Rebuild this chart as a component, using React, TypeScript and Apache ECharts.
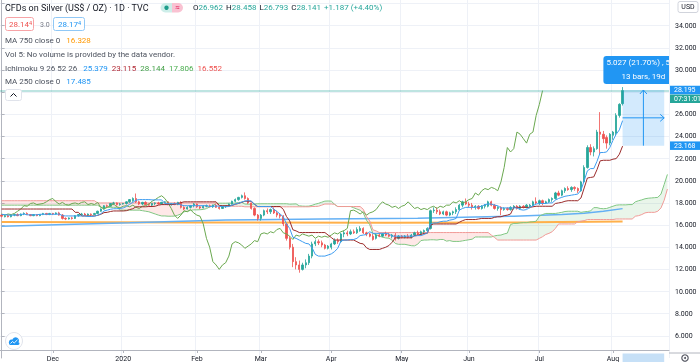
import React, { useEffect, useRef } from "react";
import * as echarts from "echarts";

// ---------- candles, [open, high, low, close] ----------
const novOHLC = [
  [16.9, 17.0, 16.7, 16.8], [16.75, 16.9, 16.7, 16.85], [16.85, 16.95, 16.7, 16.75], [16.75, 16.95, 16.7, 16.9],
  [16.9, 17.0, 16.8, 16.95], [16.95, 17.05, 16.8, 16.85], [16.85, 17.05, 16.8, 17.0], [17.0, 17.15, 16.9, 17.05],
  [17.05, 17.15, 16.9, 16.95], [16.95, 17.0, 16.8, 16.85], [16.85, 17.0, 16.8, 16.95], [16.95, 17.0, 16.8, 16.85],
  [16.85, 17.0, 16.8, 16.95], [16.95, 17.1, 16.9, 17.05], [17.05, 17.1, 16.9, 16.95], [16.95, 17.1, 16.9, 17.05],
];
const decOHLC = [
  [17.05, 17.1, 16.9, 17.0], [17.0, 17.15, 16.95, 17.1], [17.1, 17.2, 16.85, 16.9], [16.9, 17.0, 16.5, 16.6],
  [16.6, 16.7, 16.45, 16.55], [16.55, 16.7, 16.5, 16.65], [16.65, 16.75, 16.5, 16.6], [16.6, 16.9, 16.55, 16.85],
  [16.85, 17.0, 16.75, 16.95], [16.95, 17.1, 16.85, 17.0], [17.0, 17.1, 16.85, 16.9], [16.9, 17.05, 16.85, 17.0],
  [17.0, 17.05, 16.85, 16.95], [16.95, 17.1, 16.9, 17.05], [17.05, 17.3, 17.0, 17.25], [17.25, 17.5, 17.2, 17.45],
  [17.45, 17.8, 17.4, 17.75], [17.75, 17.85, 17.6, 17.7], [17.7, 18.0, 17.65, 17.95], [17.95, 18.1, 17.8, 18.0],
  [18.0, 18.05, 17.75, 17.85], [17.85, 18.0, 17.75, 17.9],
];
const janOHLC = [
  [17.9, 18.0, 17.85, 17.95], [17.95, 18.15, 17.85, 18.1], [18.1, 18.35, 18.0, 18.3], [18.2, 18.5, 18.1, 18.4],
  [18.4, 18.85, 18.0, 18.1], [18.1, 18.2, 17.8, 17.9], [17.9, 18.1, 17.8, 18.05], [18.05, 18.15, 17.8, 17.85],
  [17.85, 17.95, 17.75, 17.8], [17.8, 18.0, 17.7, 17.95], [17.95, 18.05, 17.8, 18.0], [18.0, 18.1, 17.85, 17.9],
  [17.9, 18.1, 17.85, 18.05], [18.05, 18.15, 17.95, 18.1], [18.1, 18.15, 17.8, 17.85], [17.85, 18.0, 17.75, 17.95],
  [17.95, 18.05, 17.8, 17.85], [17.85, 18.1, 17.8, 18.05], [18.05, 18.15, 17.5, 17.6], [17.6, 17.7, 17.35, 17.45],
  [17.45, 17.7, 17.4, 17.6], [17.6, 17.8, 17.5, 17.75], [17.75, 18.0, 17.6, 17.9],
];
const febOHLC = [
  [17.9, 17.95, 17.55, 17.65], [17.65, 17.75, 17.45, 17.55], [17.55, 17.8, 17.5, 17.7], [17.7, 17.85, 17.6, 17.75],
  [17.75, 17.85, 17.6, 17.65], [17.65, 17.85, 17.55, 17.8], [17.8, 17.9, 17.55, 17.6], [17.6, 17.7, 17.4, 17.5],
  [17.5, 17.75, 17.45, 17.7], [17.7, 17.8, 17.55, 17.75], [17.75, 17.95, 17.7, 17.9], [17.9, 18.2, 17.85, 18.15],
  [18.15, 18.4, 18.05, 18.3], [18.3, 18.55, 18.2, 18.5], [18.5, 18.75, 18.4, 18.65], [18.65, 18.95, 18.3, 18.4],
  [18.4, 18.5, 17.9, 18.0], [18.0, 18.05, 17.4, 17.5], [17.5, 17.6, 16.8, 16.9], [16.9, 17.0, 16.4, 16.6],
];
const marOHLC = [
  [16.6, 17.0, 16.4, 16.9], [16.9, 17.4, 16.8, 17.3], [17.3, 17.5, 17.0, 17.2], [17.2, 17.5, 17.0, 17.4],
  [17.4, 17.6, 17.0, 17.1], [17.1, 17.3, 16.7, 16.9], [16.9, 17.0, 16.6, 16.8], [16.8, 16.9, 15.9, 16.1],
  [16.1, 16.2, 14.6, 14.8], [14.8, 15.0, 13.8, 14.0], [14.0, 14.3, 12.2, 12.7], [12.7, 13.1, 12.0, 12.4],
  [12.4, 12.8, 11.7, 12.0], [12.0, 12.6, 11.9, 12.4], [12.4, 12.9, 12.1, 12.6], [12.6, 13.4, 12.4, 13.2],
  [13.2, 14.5, 13.0, 14.3], [14.3, 14.7, 14.1, 14.5], [14.5, 14.7, 14.2, 14.4], [14.4, 14.6, 14.0, 14.2],
  [14.2, 14.3, 13.8, 13.9], [13.9, 14.2, 13.8, 14.1],
];
const aprOHLC = [
  [14.0, 14.4, 13.8, 14.3], [14.3, 14.8, 14.2, 14.6], [14.6, 14.8, 14.3, 14.5], [14.5, 15.3, 14.4, 15.2],
  [15.2, 15.5, 14.9, 15.3], [15.3, 15.5, 15.0, 15.2], [15.2, 15.6, 15.1, 15.4], [15.4, 15.6, 15.2, 15.3],
  [15.3, 15.8, 15.2, 15.6], [15.5, 15.9, 15.4, 15.7], [15.7, 15.8, 15.2, 15.3], [15.3, 15.4, 15.0, 15.2],
  [15.2, 15.3, 14.9, 15.0], [15.0, 15.2, 14.6, 14.7], [14.8, 15.2, 14.7, 15.1], [15.1, 15.3, 14.9, 15.0],
  [15.0, 15.3, 14.9, 15.2], [15.2, 15.4, 15.0, 15.1], [15.1, 15.3, 14.9, 15.0], [15.0, 15.2, 14.8, 15.1],
  [15.1, 15.3, 14.6, 14.8], [14.8, 15.1, 14.7, 15.0],
];
const mayOHLC = [
  [15.0, 15.1, 14.8, 14.9], [14.9, 15.1, 14.8, 15.0], [15.0, 15.2, 14.8, 14.9], [14.9, 15.2, 14.8, 15.1],
  [15.1, 15.4, 15.0, 15.3], [15.3, 15.5, 15.1, 15.2], [15.2, 15.5, 15.1, 15.4], [15.4, 15.6, 15.3, 15.5],
  [15.5, 15.8, 15.4, 15.7], [15.7, 17.4, 15.6, 17.3], [17.3, 17.6, 17.1, 17.35], [17.35, 17.6, 17.0, 17.2],
  [17.2, 17.4, 16.9, 17.0], [17.0, 17.3, 16.9, 17.2], [17.2, 17.3, 16.8, 16.9], [16.9, 17.2, 16.8, 17.1],
  [17.1, 17.3, 16.9, 17.2], [17.2, 17.6, 17.0, 17.4], [17.4, 17.9, 17.3, 17.8], [17.8, 18.2, 17.6, 18.1],
  [18.1, 18.4, 17.8, 17.9],
];
const junOHLC = [
  [17.9, 18.1, 17.6, 17.8], [17.8, 18.0, 17.4, 17.6], [17.6, 17.8, 17.4, 17.7], [17.7, 17.8, 17.4, 17.5],
  [17.5, 17.8, 17.4, 17.7], [17.7, 17.9, 17.5, 17.8], [17.7, 18.2, 17.6, 18.1], [18.1, 18.2, 17.7, 17.8],
  [17.8, 17.9, 17.4, 17.5], [17.5, 17.7, 17.3, 17.6], [17.6, 17.7, 16.9, 17.4], [17.4, 17.6, 17.3, 17.5],
  [17.5, 17.6, 17.3, 17.4], [17.4, 17.7, 17.3, 17.6], [17.6, 17.8, 17.4, 17.7], [17.7, 17.8, 17.4, 17.5],
  [17.5, 17.8, 17.4, 17.7], [17.7, 17.8, 17.5, 17.6], [17.6, 17.9, 17.5, 17.8], [17.7, 17.9, 17.5, 17.8],
  [17.8, 18.2, 17.7, 18.1], [18.1, 18.5, 17.9, 18.0],
];
const julOHLC = [
  [18.0, 18.3, 17.8, 18.2], [18.2, 18.3, 17.8, 18.0], [18.0, 18.2, 17.9, 18.1], [18.1, 18.4, 18.0, 18.3],
  [18.3, 18.5, 18.1, 18.4], [18.4, 19.0, 18.3, 18.9], [18.9, 19.1, 18.6, 18.7], [18.7, 19.2, 18.6, 19.1],
  [19.1, 19.4, 18.9, 19.3], [19.3, 19.5, 19.1, 19.2], [19.2, 19.5, 19.0, 19.4], [19.4, 19.5, 19.1, 19.3],
  [19.3, 19.4, 18.9, 19.1], [19.1, 20.0, 19.0, 19.9], [19.9, 21.4, 19.8, 21.2], [21.2, 23.2, 21.1, 23.0],
  [23.0, 23.3, 22.3, 22.6], [22.6, 23.1, 22.2, 22.9], [22.9, 24.6, 22.8, 24.4], [24.4, 26.2, 22.4, 24.2],
  [24.2, 24.5, 23.4, 23.8], [23.9, 24.1, 22.9, 23.4], [23.4, 24.3, 23.2, 24.2],
];
const augOHLC = [
  [24.1, 24.5, 23.7, 24.4], [24.3, 26.1, 24.1, 25.9], [25.9, 27.0, 25.7, 26.9], [26.962, 28.458, 26.793, 28.141],
];

// ---------- indicator values read where the visible bars do not cover the window ----------
const tenkanLead = [16.95, 16.95, 16.9, 16.9, 16.9, 16.9, 16.95, 17.0];
const kijunLead = [
  17.45, 17.45, 17.45, 17.45, 17.45, 17.45, 17.45, 17.45, 17.45, 17.45, 17.45, 17.45, 17.45,
  17.45, 17.45, 17.45, 17.45, 17.45, 17.45, 17.45, 17.45, 17.45, 17.45, 17.15, 17.15,
];
const spanALead = [
  17.8, 17.8, 17.8, 17.8, 17.8, 17.8, 17.8, 17.8, 17.8, 17.8, 17.8, 17.8, 17.8, 17.8, 17.8, 17.8,
  17.8, 17.8, 17.8, 17.8, 17.8, 17.8, 17.8, 17.8, 17.8, 17.8, 17.8, 17.8, 17.8, 17.8, 17.8,
  17.6, 17.6, 17.6, 17.6, 17.6, 17.6,
  17.35, 17.35, 17.35, 17.35, 17.35, 17.35, 17.35, 17.3, 17.25, 17.2, 17.1, 17.0, 16.9,
];
const spanBLead = [
  18.2, 18.2, 18.2, 18.2, 18.2, 18.2, 18.2, 18.2, 18.2, 18.2, 18.2, 18.2, 18.2, 18.2, 18.2,
  18.2, 18.2, 18.2, 18.2, 18.2, 18.2, 18.2, 18.2, 18.2, 18.2, 18.2, 18.2, 18.2, 18.2, 18.2,
  18.0, 18.0, 18.0, 18.0, 18.0, 18.0, 18.0, 18.0, 18.0, 18.0, 18.0, 18.0, 18.0, 18.0, 18.0,
  18.0, 18.0, 18.0, 18.0, 18.0, 18.0, 18.0, 18.0, 18.0, 18.0, 18.0, 18.0, 18.0, 18.0, 18.0,
  18.0, 18.0, 18.0, 18.0, 18.0, 18.0, 18.0, 18.0,
  17.7, 17.7, 17.7, 17.7, 17.7, 17.7, 17.7, 17.7,
];
const ma250Points = [[0, 15.9], [40, 16.2], [70, 16.45], [100, 16.55], [130, 16.62], [160, 16.8], [175, 16.95], [182, 17.07], [188, 17.25], [194, 17.485]];
const ma750Points = [[0, 16.27], [60, 16.24], [120, 16.2], [165, 16.25], [194, 16.328]];

const monthShort = ["Jan", "Feb", "Mar", "Apr", "May", "Jun", "Jul", "Aug", "Sep", "Oct", "Nov", "Dec"];
const Y_MIN = 4;
const Y_MAX = 36.32;
const Y_STEP = 2;
const Y_HIDDEN_LABELS = [28, 36]; // covered by the price-scale boxes in the reference
const TOTAL_SLOTS = 209;
const MEASURE = { from: 194, to: 207, top: 28.195, bottom: 23.168, line1: "5.027 (21.70%) , 5027", line2: "13 bars, 19d" };
const COUNTDOWN = "07:31:01";
const HEADER_CHANGE = "+1.187 (+4.40%)";

const FONT = 'Roboto, "Noto Sans", "DejaVu Sans", sans-serif';
const UP = "#26a69a";
const DOWN = "#ef5350";

// ---------- derived ----------
const bars = [...novOHLC, ...decOHLC, ...janOHLC, ...febOHLC, ...marOHLC, ...aprOHLC, ...mayOHLC, ...junOHLC, ...julOHLC, ...augOHLC];
const NB = bars.length;
const highs = bars.map((b) => b[1]);
const lows = bars.map((b) => b[2]);
const closes = bars.map((b) => b[3]);

const dates: Date[] = [];
{
  const d = new Date(Date.UTC(2019, 10, 8));
  while (dates.length < TOTAL_SLOTS) {
    const wd = d.getUTCDay();
    if (wd !== 0 && wd !== 6) dates.push(new Date(d.getTime()));
    d.setUTCDate(d.getUTCDate() + 1);
  }
}
const dateLabels = dates.map((d) => d.toISOString().slice(0, 10));
const monthLabel: Record<number, string> = {};
for (let i = 1; i < dates.length; i++) {
  if (dates[i].getUTCMonth() !== dates[i - 1].getUTCMonth()) {
    const m = dates[i].getUTCMonth();
    monthLabel[i] = m === 0 ? String(dates[i].getUTCFullYear()) : monthShort[m];
  }
}

function midHL(i0: number, i1: number) {
  let h = -Infinity, l = Infinity;
  for (let k = Math.max(0, i0); k <= i1; k++) { h = Math.max(h, highs[k]); l = Math.min(l, lows[k]); }
  return (h + l) / 2;
}
const tenkan = bars.map((_, i) => (i >= 8 ? midHL(i - 8, i) : tenkanLead[i]));
const kijun = bars.map((_, i) => (i >= 25 ? midHL(i - 25, i) : kijunLead[i]));
const slots = Array.from({ length: TOTAL_SLOTS }, (_, j) => j);
const spanA = slots.map((j) => (j < 50 ? spanALead[j] : j - 25 < NB ? (tenkan[j - 25] + kijun[j - 25]) / 2 : null));
const spanB = slots.map((j) => (j < 76 ? spanBLead[j] : j - 25 < NB ? midHL(j - 76, j - 25) : null));
const lagging = slots.map((j) => (j + 25 < NB ? closes[j + 25] : null));
const fromPoints = (pts: number[][]) => {
  const arr: (number | null)[] = slots.map(() => null);
  pts.forEach(([i, v]) => (arr[i] = v));
  return arr;
};

export default function App() {
  const ref = useRef<HTMLDivElement>(null);
  useEffect(() => {
    document.body.style.margin = "0";
    const chart = echarts.init(ref.current!, null, { renderer: "svg" });
    const isLabel = (i: number) => monthLabel[i] !== undefined;
    const lineS = (name: string, data: any[], color: string, width: number, z: number, connect = false) => ({
      name, type: "line", data, symbol: "none", showSymbol: false, connectNulls: connect, z, silent: true,
      lineStyle: { color, width }, xAxisIndex: 0, yAxisIndex: 0,
    });
    const option: any = {
      animation: false,
      textStyle: { fontFamily: FONT },
      grid: { left: 0, right: 31, top: 0, bottom: 0.96 },
      xAxis: [
        {
          type: "category", data: dateLabels, boundaryGap: true, offset: -8,
          axisLine: { show: true, lineStyle: { color: "#b2b5be", width: 1 } },
          axisTick: { show: true, alignWithLabel: true, interval: (i: number) => isLabel(i), length: 3, lineStyle: { color: "#b2b5be" } },
          axisLabel: { interval: (i: number) => isLabel(i), formatter: (_v: string, i: number) => monthLabel[i] || "", color: "#131722", fontSize: 7, margin: 5, fontFamily: FONT },
          splitLine: { show: true, interval: (i: number) => isLabel(i), lineStyle: { color: "#eef1f7", width: 1 } },
        },
        { type: "value", min: -0.5, max: TOTAL_SLOTS - 0.5, show: false },
      ],
      yAxis: {
        type: "value", position: "right", min: Y_MIN, max: Y_MAX, interval: Y_STEP,
        axisLine: { show: true, lineStyle: { color: "#b2b5be" } },
        axisTick: { show: true, length: 3, lineStyle: { color: "#b2b5be" } },
        axisLabel: {
          formatter: (v: number) => (Y_HIDDEN_LABELS.some((h) => Math.abs(h - v) < 1e-6) ? "" : v.toFixed(3)),
          color: "#131722", fontSize: 7, margin: 6, showMinLabel: false, showMaxLabel: false, fontFamily: FONT,
        },
        splitLine: { show: true, showMinLine: false, showMaxLine: false, lineStyle: { color: "#eef1f7" } },
      },
      series: [
        {
          type: "custom", name: "cloud", xAxisIndex: 1, yAxisIndex: 0, clip: true, z: 1, silent: true,
          data: [[0, 10]], encode: { x: 0, y: 1 },
          renderItem: (_p: any, api: any) => {
            const children: any[] = [];
            let ra: number[][] = [], rb: number[][] = [];
            let up: boolean | null = null;
            const flush = () => {
              if (ra.length > 1) children.push({ type: "polygon", shape: { points: [...ra, ...rb.slice().reverse()] }, style: { fill: up ? "rgba(76,175,80,0.12)" : "rgba(244,67,54,0.12)" } });
              ra = []; rb = [];
            };
            for (let i = 0; i < TOTAL_SLOTS; i++) {
              const a = spanA[i], b = spanB[i];
              if (a == null || b == null) { flush(); up = null; continue; }
              const u = a >= b;
              if (up !== null && u !== up) {
                const a0 = spanA[i - 1] as number, b0 = spanB[i - 1] as number;
                const d0 = a0 - b0, d1 = a - b;
                const t = d0 / (d0 - d1);
                const p = api.coord([i - 1 + t, a0 + t * (a - a0)]);
                ra.push(p); rb.push(p);
                flush();
                ra.push(p); rb.push(p);
              }
              up = u;
              ra.push(api.coord([i, a]));
              rb.push(api.coord([i, b]));
            }
            flush();
            return { type: "group", children };
          },
        },
        lineS("MA 750", fromPoints(ma750Points), "#ffb04a", 2, 2, true),
        lineS("MA 250", fromPoints(ma250Points), "#64b0f4", 1.5, 2, true),
        lineS("Leading Span A", spanA, "#80c783", 1, 2),
        lineS("Leading Span B", spanB, "#f19a97", 1, 2),
        {
          type: "candlestick", name: "Silver", z: 3, silent: true, barWidth: 1.8,
          data: bars.map(([o, h, l, c]) => [o, c, l, h]),
          itemStyle: { color: UP, color0: DOWN, borderColor: UP, borderColor0: DOWN, borderWidth: 0.8 },
          markLine: {
            silent: true, symbol: ["none", "none"], label: { show: false },
            lineStyle: { color: "rgba(38,166,154,0.4)", width: 1.5, type: "solid" },
            data: [{ yAxis: closes[NB - 1] }],
          },
        },
        lineS("Lagging Span", lagging, "#6aa84f", 1, 4),
        lineS("Base Line", kijun, "#9a2a2a", 1, 4),
        lineS("Conversion Line", tenkan, "#3d9cf0", 1, 4),
        {
          type: "custom", name: "measure", xAxisIndex: 1, yAxisIndex: 0, clip: true, z: 6, silent: true,
          data: [[MEASURE.from, MEASURE.top]], encode: { x: 0, y: 1 },
          renderItem: (_p: any, api: any) => {
            const [x0, yT] = api.coord([MEASURE.from, MEASURE.top]);
            const [x1, yB] = api.coord([MEASURE.to, MEASURE.bottom]);
            const cx = (x0 + x1) / 2, cy = (yT + yB) / 2;
            const blue = "#2196f3";
            return {
              type: "group",
              children: [
                { type: "rect", shape: { x: x0, y: yT, width: x1 - x0, height: yB - yT }, style: { fill: "rgba(33,150,243,0.2)" } },
                { type: "line", shape: { x1: cx, y1: yB, x2: cx, y2: yT }, style: { stroke: blue, lineWidth: 1 } },
                { type: "polyline", shape: { points: [[cx - 3.5, yT + 4], [cx, yT], [cx + 3.5, yT + 4]] }, style: { stroke: blue, fill: "none", lineWidth: 1 } },
                { type: "line", shape: { x1: x0, y1: cy, x2: x1, y2: cy }, style: { stroke: blue, lineWidth: 1 } },
                { type: "polyline", shape: { points: [[x1 - 4, cy - 3.5], [x1, cy], [x1 - 4, cy + 3.5]] }, style: { stroke: blue, fill: "none", lineWidth: 1 } },
                { type: "rect", shape: { x: cx - 40, y: yT - 34, width: 84, height: 28, r: 3 }, style: { fill: blue } },
                { type: "text", style: { text: MEASURE.line1, x: cx - 37, y: yT - 27, fill: "#ffffff", font: `8px ${FONT}`, textAlign: "left", textVerticalAlign: "middle", verticalAlign: "middle" } },
                { type: "text", style: { text: MEASURE.line2, x: cx, y: yT - 13.5, fill: "#ffffff", font: `8px ${FONT}`, textAlign: "center", align: "center", textVerticalAlign: "middle", verticalAlign: "middle" } },
              ],
            };
          },
        },
      ],
    };
    chart.setOption(option);

    // ---------- overlay texts ----------
    const cv = document.createElement("canvas").getContext("2d")!;
    const tw = (t: string, size: number) => { cv.font = `${size}px ${FONT}`; return cv.measureText(t).width; };
    const Z = 100;
    const txt = (x: number, y: number, t: string, color: string, size: number, align = "left") => ({
      type: "text", x, y, z: Z, silent: true,
      style: { text: t, fill: color, font: `${size}px ${FONT}`, textAlign: align, align, textVerticalAlign: "middle", verticalAlign: "middle" },
    });
    const run = (x: number, y: number, parts: [string, string, number][], size: number) => {
      const out: any[] = [];
      let cx = x;
      parts.forEach(([t, c, gap]) => { cx += gap; out.push(txt(cx, y, t, c, size)); cx += tw(t, size); });
      return out;
    };
    const DARK = "#131722";
    const GREY = "#4c525e";
    const last = bars[NB - 1];
    const xp = (i: number) => chart.convertToPixel({ xAxisIndex: 1 } as any, i) as number;
    const yp = (v: number) => chart.convertToPixel({ yAxisIndex: 0 } as any, v) as number;
    const axisX = 670;
    const priceBox = (yc: number, label: string, fill: string) => [
      { type: "rect", z: Z, silent: true, shape: { x: axisX, y: yc - 4.25, width: 30, height: 8.5 }, style: { fill } },
      txt(axisX + 4, yc, label, "#ffffff", 7),
    ];
    const yTop = yp(MEASURE.top), yBot = yp(MEASURE.bottom);
    const graphic: any[] = [
      // header
      txt(5, 7.5, "CFDs on Silver (US$ / OZ) · 1D · TVC", DARK, 9),
      { type: "rect", z: Z, silent: true, shape: { x: 160.5, y: 3, width: 11.5, height: 9.5, r: [5, 0, 0, 5] }, style: { fill: "#cdeee9" } },
      { type: "circle", z: Z, silent: true, shape: { cx: 166.5, cy: 7.75, r: 2.2 }, style: { fill: "#1e9e8b" } },
      { type: "rect", z: Z, silent: true, shape: { x: 172, y: 3, width: 11, height: 9.5, r: [0, 5, 5, 0] }, style: { fill: "#f9c2d2" } },
      txt(177.5, 7.5, "≈", "#e3245c", 8, "center"),
      ...run(193, 7.5, [
        ["O", DARK, 0], [last[0].toFixed(3), UP, 0], ["H", DARK, 3], [last[1].toFixed(3), UP, 0],
        ["L", DARK, 3], [last[2].toFixed(3), UP, 0], ["C", DARK, 3], [last[3].toFixed(3), UP, 0],
        [HEADER_CHANGE, UP, 3],
      ], 8),
      // bid / ask
      { type: "rect", z: Z, silent: true, shape: { x: 5.5, y: 17.5, width: 28, height: 13, r: 2 }, style: { fill: "#fff", stroke: "#f7a3a6", lineWidth: 1 } },
      txt(9, 24.5, "28.14", DOWN, 8), txt(9 + tw("28.14", 8), 22.5, "4", DOWN, 5.5),
      txt(40, 24.5, "3.0", "#787b86", 7),
      { type: "rect", z: Z, silent: true, shape: { x: 53.5, y: 17.5, width: 31, height: 13, r: 2 }, style: { fill: "#fff", stroke: "#90c8f6", lineWidth: 1 } },
      txt(58, 24.5, "28.17", "#2196f3", 8), txt(58 + tw("28.17", 8), 22.5, "4", "#2196f3", 5.5),
      // study legends
      ...run(5, 40.7, [["MA 750 close 0", GREY, 0], ["16.328", "#ff9800", 6]], 8),
      ...run(5, 54.3, [["Vol 5: No volume is provided by the data vendor.", GREY, 0]], 8),
      ...run(5, 68.3, [
        ["Ichimoku 9 26 52 26", GREY, 0], ["25.379", "#2196f3", 6], ["23.115", "#b22833", 4],
        ["28.144", "#43a047", 4], ["17.806", "#4caf50", 4], ["16.552", "#ef5350", 4],
      ], 8),
      ...run(5, 81.7, [["MA 250 close 0", GREY, 0], ["17.485", "#2196f3", 6]], 8),
      { type: "rect", z: Z, silent: true, shape: { x: 5.5, y: 89.5, width: 16, height: 11, r: 2 }, style: { fill: "#fff", stroke: "#e0e3eb", lineWidth: 1 } },
      { type: "polyline", z: Z, silent: true, shape: { points: [[10.5, 96.5], [13.5, 93.5], [16.5, 96.5]] }, style: { stroke: DARK, fill: "none", lineWidth: 1 } },
      // price scale labels
      { type: "rect", z: Z, silent: true, shape: { x: 678, y: 1.5, width: 20, height: 11, r: 2 }, style: { fill: "#fff", stroke: "#d1d4dc", lineWidth: 1 } },
      txt(688, 7, "USD", DARK, 7, "center"),
      ...priceBox(yTop + 8.75, COUNTDOWN, UP),
      ...priceBox(yTop, MEASURE.top.toFixed(3), "#2196f3"),
      ...priceBox(yBot, MEASURE.bottom.toFixed(3), "#2196f3"),
      // time scale range highlight and settings icon
      { type: "rect", z: Z, silent: true, shape: { x: xp(MEASURE.from), y: 353.5, width: xp(MEASURE.to) - xp(MEASURE.from), height: 9 }, style: { fill: "#c6e0f7" } },
      { type: "line", z: Z, silent: true, shape: { x1: 669, y1: 353, x2: 700, y2: 353 }, style: { stroke: "#b2b5be", lineWidth: 1 } },
      { type: "circle", z: Z, silent: true, shape: { cx: 685, cy: 358, r: 3.2 }, style: { fill: "none", stroke: "#50535e", lineWidth: 1.1 } },
      { type: "circle", z: Z, silent: true, shape: { cx: 685, cy: 358, r: 1 }, style: { fill: "#50535e" } },
      // logo
      { type: "circle", z: Z, silent: true, shape: { cx: 14, cy: 341, r: 8.5 }, style: { fill: "#fff", stroke: "#e0e3eb", lineWidth: 1 } },
      { type: "circle", z: Z, silent: true, shape: { cx: 11.6, cy: 342.2, r: 2.7 }, style: { fill: "#2196f3" } },
      { type: "circle", z: Z, silent: true, shape: { cx: 15.6, cy: 340.6, r: 3.4 }, style: { fill: "#2196f3" } },
      { type: "rect", z: Z, silent: true, shape: { x: 9, y: 342.2, width: 10.5, height: 2.8, r: 1.4 }, style: { fill: "#2196f3" } },
      { type: "polyline", z: Z, silent: true, shape: { points: [[10.5, 343.5], [12.5, 341.5], [14.2, 343], [17.5, 339.8]] }, style: { stroke: "#fff", fill: "none", lineWidth: 0.9 } },
    ];
    chart.setOption({ graphic });
    return () => chart.dispose();
  }, []);
  return <div ref={ref} style={{ position: "fixed", left: 0, top: 0, width: 700, height: 362 }} />;
}
